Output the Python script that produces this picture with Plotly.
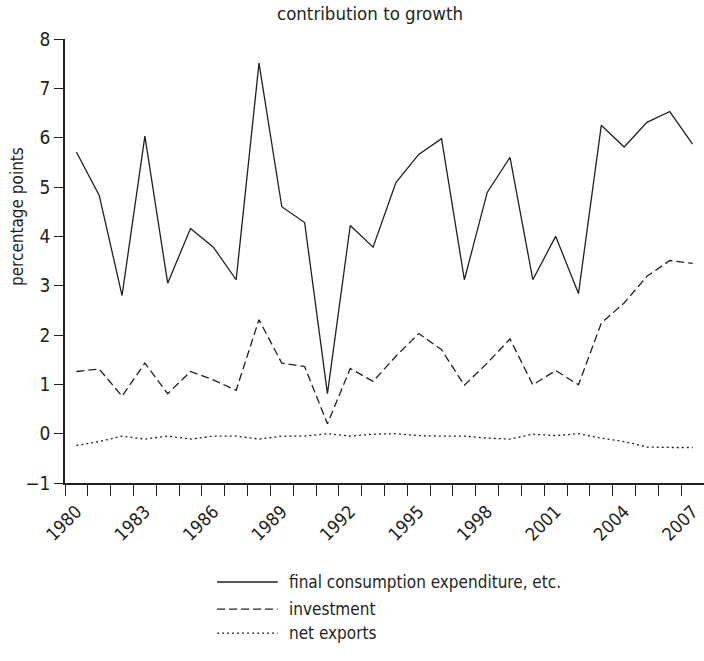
import plotly.graph_objects as go

years = list(range(1980, 2008))
consumption = [5.71, 4.83, 2.80, 6.03, 3.05, 4.16, 3.78, 3.12, 7.51, 4.60, 4.28, 0.81, 4.22, 3.78,
               5.09, 5.66, 5.98, 3.12, 4.89, 5.60, 3.12, 4.00, 2.84, 6.25, 5.81, 6.31, 6.53, 5.87]
investment = [1.26, 1.31, 0.76, 1.43, 0.81, 1.26, 1.09, 0.88, 2.31, 1.43, 1.36, 0.20, 1.32, 1.06,
              1.57, 2.03, 1.70, 0.98, 1.43, 1.92, 0.99, 1.28, 0.99, 2.24, 2.65, 3.19, 3.51, 3.45]
net_exports = [-0.24, -0.16, -0.05, -0.11, -0.05, -0.11, -0.05, -0.05, -0.11, -0.05, -0.05, 0.0, -0.05, -0.01,
               0.0, -0.04, -0.05, -0.05, -0.09, -0.11, -0.01, -0.04, 0.0, -0.09, -0.16, -0.27, -0.28, -0.28]
series_names = ["final consumption expenditure, etc.", "investment", "net exports"]
tick_years = list(range(1980, 2008, 3))

FONT = "DejaVu Sans Condensed, Liberation Sans Narrow, Roboto Condensed, sans-serif"
INK = "#231f20"

fig = go.Figure()
styles = [("solid", consumption), ("8px,4px", investment), ("2px,3px", net_exports)]
for name, (dash, vals) in zip(series_names, styles):
    fig.add_trace(go.Scatter(x=years, y=vals, mode="lines", name=name,
                             line=dict(color=INK, width=1.3, dash=dash), showlegend=False))

# manual legend
leg_y = [-0.223, -0.284, -0.338]
for (dash, _), name, yy in zip(styles, series_names, leg_y):
    fig.add_shape(type="line", xref="paper", yref="paper", x0=0.238, x1=0.333, y0=yy, y1=yy,
                  line=dict(color=INK, width=1.3, dash=dash))
    fig.add_annotation(xref="paper", yref="paper", x=0.347, y=yy, text=name, showarrow=False,
                       xanchor="left", yanchor="middle", font=dict(family=FONT, size=17, color=INK))

# y-axis title
fig.add_annotation(xref="paper", yref="paper", x=-0.0751, y=0.599,
                   text="percentage points", textangle=-90, showarrow=False,
                   xanchor="center", yanchor="middle", font=dict(family=FONT, size=17, color=INK))

fig.update_layout(
    width=704, height=661,
    margin=dict(l=65, r=0, t=39, b=178),
    paper_bgcolor="white", plot_bgcolor="white",
    font=dict(family=FONT, size=17, color=INK),
    title=dict(text="contribution to growth", x=370 / 704, xref="container", xanchor="center",
               y=1 - 14 / 661, yanchor="middle", font=dict(family=FONT, size=18.5, color=INK)),
    xaxis=dict(range=[1979.5, 2007.5], tickvals=tick_years, ticktext=[str(y) for y in tick_years],
               tickangle=-45, ticks="outside", ticklen=9, tickcolor="rgba(0,0,0,0)",
               automargin=False,
               showline=True, linecolor=INK, linewidth=2, showgrid=False, zeroline=False,
               tickfont=dict(family=FONT, size=18, color=INK),
               minor=dict(tickvals=[y - 0.5 for y in years], ticks="outside", ticklen=11,
                          tickcolor=INK, tickwidth=1, showgrid=False)),
    yaxis=dict(range=[-1, 8], dtick=1, ticks="outside", ticklen=9, tickcolor=INK, tickwidth=1,
               automargin=False,
               showline=True, linecolor=INK, linewidth=1.5, showgrid=False, zeroline=False,
               tickfont=dict(family=FONT, size=19, color=INK)),
)

fig.write_html("out.html", config={"displayModeBar": False},
               post_script="document.body.style.margin='0px';document.body.style.overflow='hidden';")
